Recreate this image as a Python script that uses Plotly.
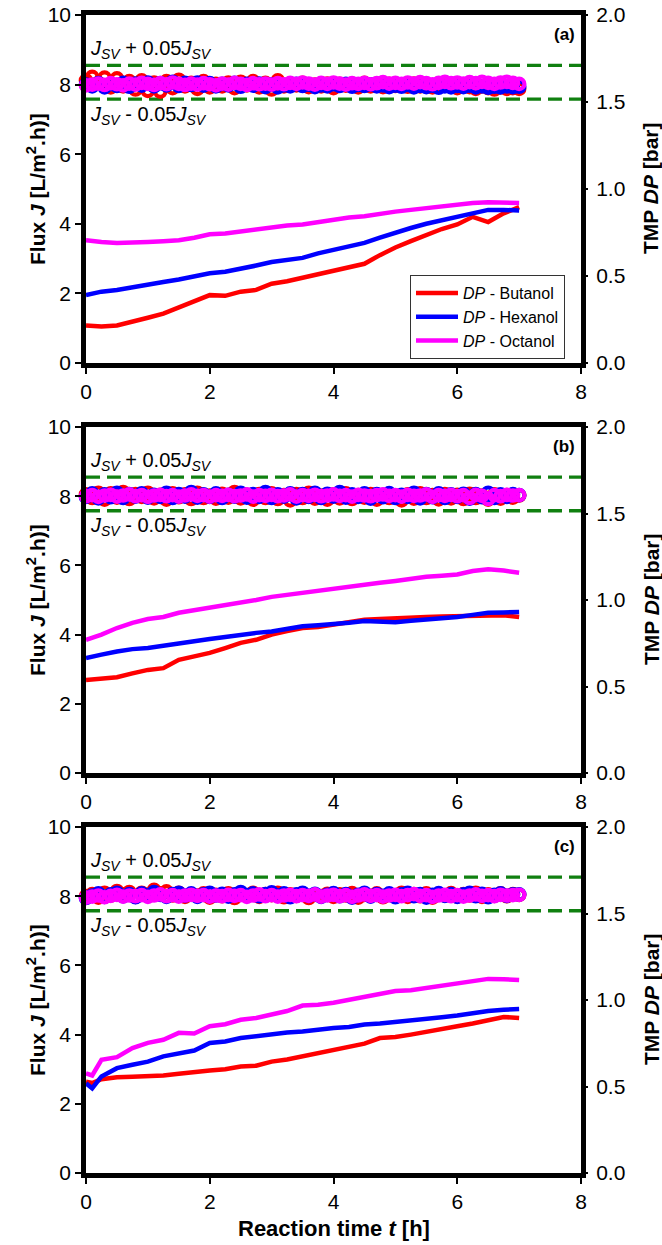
import plotly.graph_objects as go

# ---------------- data ----------------
TIME_FLUX = [0.0, 0.1, 0.2, 0.3, 0.4, 0.5, 0.6, 0.7, 0.8, 0.9,
             1.0, 1.1, 1.2, 1.3, 1.4, 1.5, 1.6, 1.7, 1.8, 1.9,
             2.0, 2.1, 2.2, 2.3, 2.4, 2.5, 2.6, 2.7, 2.8, 2.9,
             3.0, 3.1, 3.2, 3.3, 3.4, 3.5, 3.6, 3.7, 3.8, 3.9,
             4.0, 4.1, 4.2, 4.3, 4.4, 4.5, 4.6, 4.7, 4.8, 4.9,
             5.0, 5.1, 5.2, 5.3, 5.4, 5.5, 5.6, 5.7, 5.8, 5.9,
             6.0, 6.1, 6.2, 6.3, 6.4, 6.5, 6.6, 6.7, 6.8, 6.9,
             7.0]

FLUX_A_BUT = [8.12, 8.22, 8.05, 8.20, 7.92, 8.18, 7.95, 8.10, 7.86, 8.12,
              7.82, 8.06, 7.80, 8.10, 7.90, 8.14, 7.95, 8.05, 7.88, 8.10,
              7.92, 8.02, 7.95, 8.06, 7.90, 8.08, 7.98, 8.10, 7.92, 8.05,
              7.86, 8.12, 7.95, 8.02, 7.98, 8.05, 7.93, 8.00, 7.95, 8.03,
              7.90, 8.02, 7.97, 8.00, 7.92, 8.05, 7.95, 8.00, 7.93, 8.02,
              7.96, 8.00, 7.94, 8.03, 7.95, 8.00, 7.92, 8.02, 7.97, 7.95,
              7.90, 7.98, 7.93, 7.88, 7.95, 7.90, 7.86, 7.92, 7.88, 7.90,
              7.88]
FLUX_A_HEX = [8.00, 7.95, 8.04, 7.92, 8.02, 7.96, 8.05, 7.94, 8.03, 7.97,
              8.06, 7.95, 8.04, 7.98, 8.08, 7.96, 8.05, 7.99, 8.06, 7.97,
              8.04, 7.95, 8.02, 7.98, 8.05, 7.94, 8.02, 7.97, 8.03, 7.93,
              8.00, 7.92, 7.98, 7.95, 8.02, 7.96, 8.00, 7.93, 7.98, 7.95,
              8.01, 7.96, 8.02, 7.94, 7.99, 7.96, 8.01, 7.95, 7.98, 7.93,
              7.97, 7.94, 7.99, 7.92, 7.96, 7.93, 7.97, 7.91, 7.95, 7.92,
              7.96, 7.93, 7.97, 7.92, 7.95, 7.91, 7.94, 7.92, 7.95, 7.93,
              7.94]
FLUX_A_OCT = [7.98, 8.00, 8.03, 7.99, 8.04, 8.01, 7.98, 8.03, 8.00, 8.05,
              8.02, 7.99, 8.04, 8.01, 8.06, 8.02, 7.99, 8.03, 8.00, 8.04,
              8.01, 7.98, 8.03, 8.00, 8.05, 8.02, 7.99, 8.04, 8.01, 8.03,
              8.00, 8.04, 8.01, 8.05, 8.02, 8.06, 8.03, 8.00, 8.05, 8.02,
              8.06, 8.03, 8.00, 8.04, 8.02, 8.05, 8.01, 8.04, 8.07, 8.03,
              8.05, 8.02, 8.06, 8.03, 8.07, 8.04, 8.01, 8.05, 8.08, 8.04,
              8.06, 8.03, 8.07, 8.04, 8.08, 8.05, 8.02, 8.06, 8.08, 8.05,
              8.02]

FLUX_B_BUT = [8.05, 7.95, 8.10, 7.90, 8.08, 7.96, 8.12, 7.92, 8.06, 7.98,
              8.10, 7.94, 8.04, 7.90, 8.08, 7.97, 8.05, 7.92, 8.10, 7.95,
              8.02, 7.93, 8.07, 7.96, 8.12, 7.94, 8.04, 7.90, 8.06, 7.95,
              8.08, 7.92, 8.03, 7.88, 8.06, 7.95, 8.10, 7.93, 8.02, 7.90,
              8.05, 7.94, 8.08, 7.92, 8.03, 7.96, 8.06, 7.90, 8.04, 7.95,
              8.02, 7.88, 8.05, 7.93, 8.08, 7.95, 8.03, 7.91, 8.06, 7.94,
              8.04, 7.92, 8.07, 7.95, 8.02, 7.90, 8.05, 7.93, 8.03, 7.96,
              8.02]
FLUX_B_HEX = [7.98, 8.08, 7.94, 8.05, 7.97, 8.10, 7.95, 8.06, 7.99, 8.08,
              7.96, 8.04, 7.98, 8.10, 7.95, 8.06, 7.99, 8.12, 7.96, 8.05,
              7.98, 8.08, 7.95, 8.04, 7.99, 8.10, 7.96, 8.06, 7.98, 8.12,
              7.95, 8.05, 7.99, 8.08, 7.94, 8.06, 7.98, 8.10, 7.95, 8.07,
              7.99, 8.12, 7.96, 8.05, 7.98, 8.08, 7.93, 8.06, 7.97, 8.09,
              7.95, 8.04, 7.98, 8.10, 7.94, 8.06, 7.97, 8.08, 7.95, 8.05,
              7.98, 8.07, 7.93, 8.06, 7.97, 8.10, 7.95, 8.05, 7.98, 8.06,
              8.03]
FLUX_B_OCT = [8.00, 8.03, 7.98, 8.02, 8.04, 7.99, 8.02, 8.05, 8.00, 8.03,
              7.98, 8.02, 8.04, 8.00, 8.03, 7.99, 8.02, 8.05, 8.01, 8.03,
              7.99, 8.03, 8.01, 8.04, 8.00, 8.02, 8.05, 7.99, 8.03, 8.01,
              8.04, 8.00, 8.02, 8.05, 7.99, 8.03, 8.01, 8.04, 8.00, 8.02,
              8.05, 8.01, 8.03, 7.99, 8.04, 8.02, 8.00, 8.03, 8.05, 8.01,
              8.03, 7.99, 8.04, 8.01, 8.02, 8.05, 7.98, 8.03, 8.01, 8.04,
              8.00, 8.03, 7.95, 8.04, 8.01, 7.92, 8.03, 8.00, 8.04, 8.02,
              8.03]

FLUX_C_BUT = [8.00, 8.06, 7.96, 8.10, 8.02, 8.15, 8.05, 8.12, 7.98, 8.10,
              8.04, 8.18, 8.08, 8.14, 8.02, 8.10, 7.98, 8.06, 8.02, 8.08,
              7.96, 8.04, 8.00, 8.08, 7.95, 8.05, 8.02, 8.10, 7.98, 8.06,
              8.03, 8.10, 7.97, 8.05, 8.01, 8.08, 7.95, 8.04, 8.00, 8.07,
              7.98, 8.05, 8.02, 8.09, 7.96, 8.04, 8.01, 8.08, 7.97, 8.05,
              8.02, 8.10, 7.98, 8.06, 8.00, 8.08, 7.96, 8.05, 8.02, 8.09,
              7.99, 8.06, 8.02, 8.10, 7.98, 8.05, 8.01, 8.08, 8.00, 8.06,
              8.04]
FLUX_C_HEX = [7.95, 8.02, 8.08, 7.98, 8.05, 8.10, 8.00, 8.06, 7.97, 8.08,
              8.02, 8.12, 8.04, 7.98, 8.06, 8.10, 8.02, 8.08, 7.98, 8.05,
              8.10, 8.02, 8.07, 7.99, 8.05, 8.12, 8.03, 8.08, 8.00, 8.06,
              8.11, 8.02, 8.08, 7.97, 8.05, 8.10, 8.01, 8.07, 7.98, 8.04,
              8.09, 8.00, 8.06, 7.96, 8.04, 8.10, 7.99, 8.06, 8.01, 8.08,
              7.97, 8.05, 8.10, 8.00, 8.06, 7.96, 8.04, 8.09, 8.01, 8.06,
              7.98, 8.05, 8.10, 8.00, 8.07, 7.97, 8.04, 8.08, 8.01, 8.05,
              8.05]
FLUX_C_OCT = [7.96, 7.99, 8.02, 7.97, 8.01, 8.04, 7.99, 8.02, 8.00, 8.03,
              7.98, 8.02, 8.05, 8.00, 8.03, 7.99, 8.02, 8.04, 8.01, 8.03,
              7.99, 8.02, 8.00, 8.04, 8.01, 8.03, 7.98, 8.02, 8.05, 8.00,
              8.03, 7.99, 8.02, 8.04, 8.00, 8.03, 8.01, 8.05, 7.99, 8.02,
              8.04, 8.00, 8.03, 7.98, 8.02, 8.05, 8.01, 8.03, 7.99, 8.02,
              8.04, 8.00, 8.03, 8.06, 8.01, 8.03, 7.98, 8.02, 8.04, 8.00,
              8.03, 7.99, 8.02, 8.05, 8.01, 8.03, 8.00, 8.04, 8.02, 8.03,
              8.04]

TIME_DP = [0.0, 0.1, 0.25, 0.5, 0.75, 1.0, 1.25, 1.5, 1.75, 2.0,
           2.25, 2.5, 2.75, 3.0, 3.25, 3.5, 3.75, 4.0, 4.25, 4.5,
           4.75, 5.0, 5.25, 5.5, 5.75, 6.0, 6.25, 6.5, 6.75, 7.0]

DP_A_BUT = [0.216, 0.212, 0.210, 0.216, 0.236, 0.260, 0.284, 0.320, 0.360, 0.390,
            0.386, 0.410, 0.420, 0.456, 0.470, 0.490, 0.510, 0.530, 0.556, 0.570,
            0.620, 0.664, 0.700, 0.736, 0.770, 0.796, 0.840, 0.810, 0.860, 0.896]
DP_A_HEX = [0.390, 0.400, 0.410, 0.420, 0.436, 0.456, 0.466, 0.480, 0.496, 0.516,
            0.524, 0.540, 0.560, 0.580, 0.590, 0.604, 0.630, 0.650, 0.670, 0.690,
            0.720, 0.750, 0.776, 0.800, 0.820, 0.840, 0.864, 0.880, 0.880, 0.876]
DP_A_OCT = [0.706, 0.700, 0.696, 0.690, 0.690, 0.696, 0.700, 0.706, 0.720, 0.740,
            0.744, 0.756, 0.770, 0.776, 0.790, 0.796, 0.810, 0.820, 0.836, 0.844,
            0.860, 0.870, 0.880, 0.890, 0.904, 0.914, 0.920, 0.924, 0.920, 0.920]

DP_B_BUT = [0.538, 0.540, 0.548, 0.554, 0.576, 0.596, 0.606, 0.654, 0.674, 0.694,
            0.722, 0.752, 0.770, 0.800, 0.820, 0.838, 0.844, 0.858, 0.872, 0.886,
            0.890, 0.896, 0.900, 0.902, 0.904, 0.906, 0.910, 0.916, 0.912, 0.902]
DP_B_HEX = [0.664, 0.670, 0.684, 0.702, 0.716, 0.722, 0.736, 0.752, 0.764, 0.774,
            0.786, 0.800, 0.810, 0.818, 0.832, 0.848, 0.854, 0.858, 0.868, 0.878,
            0.876, 0.872, 0.880, 0.886, 0.894, 0.902, 0.914, 0.926, 0.928, 0.930]
DP_B_OCT = [0.770, 0.780, 0.800, 0.838, 0.868, 0.890, 0.902, 0.926, 0.940, 0.954,
            0.970, 0.988, 1.000, 1.018, 1.030, 1.046, 1.056, 1.064, 1.080, 1.090,
            1.100, 1.110, 1.124, 1.134, 1.140, 1.148, 1.168, 1.178, 1.170, 1.158]

DP_C_BUT = [0.528, 0.520, 0.542, 0.554, 0.556, 0.558, 0.564, 0.574, 0.580, 0.592,
            0.600, 0.616, 0.620, 0.644, 0.656, 0.674, 0.690, 0.712, 0.724, 0.748,
            0.780, 0.786, 0.800, 0.818, 0.834, 0.848, 0.864, 0.882, 0.902, 0.896]
DP_C_HEX = [0.518, 0.490, 0.558, 0.606, 0.626, 0.644, 0.674, 0.694, 0.708, 0.752,
            0.760, 0.780, 0.790, 0.806, 0.812, 0.818, 0.830, 0.838, 0.844, 0.858,
            0.864, 0.872, 0.880, 0.886, 0.900, 0.910, 0.924, 0.936, 0.944, 0.948]
DP_C_OCT = [0.576, 0.564, 0.654, 0.670, 0.722, 0.752, 0.770, 0.810, 0.806, 0.848,
            0.860, 0.886, 0.896, 0.916, 0.936, 0.968, 0.972, 0.984, 1.000, 1.018,
            1.030, 1.052, 1.056, 1.070, 1.080, 1.096, 1.110, 1.122, 1.120, 1.116]

JSV_UPPER = 8.55
JSV_LOWER = 7.58

PANEL_LABELS = ["(a)", "(b)", "(c)"]
SERIES_NAMES = ["Butanol", "Hexanol", "Octanol"]
COLORS = ["#FF0000", "#0000FF", "#FF00FF"]

X_TICKS = [0, 2, 4, 6, 8]
Y_TICKS = [0, 2, 4, 6, 8, 10]
Y2_TICKS = [0.0, 0.5, 1.0, 1.5, 2.0]

FLUX = [[FLUX_A_BUT, FLUX_A_HEX, FLUX_A_OCT],
        [FLUX_B_BUT, FLUX_B_HEX, FLUX_B_OCT],
        [FLUX_C_BUT, FLUX_C_HEX, FLUX_C_OCT]]
DP = [[DP_A_BUT, DP_A_HEX, DP_A_OCT],
      [DP_B_BUT, DP_B_HEX, DP_B_OCT],
      [DP_C_BUT, DP_C_HEX, DP_C_OCT]]

# ---------------- figure ----------------
FONT = "Liberation Sans, Arial, sans-serif"
W, H = 662, 1245
ML, MR, MT, MB = 86, 81, 15, 72
PH = H - MT - MB
PW = W - ML - MR
# panel pixel extents (top, bottom)
PANELS_PX = [(15, 363), (427, 773), (827, 1173)]


def ypaper(py):
    return (H - MB - py) / PH


def xpaper(px):
    return (px - ML) / PW


domains = [[ypaper(b), ypaper(t)] for (t, b) in PANELS_PX]

fig = go.Figure()

for p in range(3):
    xa = "x" if p == 0 else f"x{p + 1}"
    ya = "y" if p == 0 else f"y{2 * p + 1}"
    ya2 = f"y{2 * p + 2}"
    for s in range(3):
        fig.add_trace(go.Scatter(
            x=TIME_FLUX, y=FLUX[p][s], xaxis=xa, yaxis=ya,
            mode="markers", showlegend=False, cliponaxis=False,
            marker=dict(symbol="circle-open", size=10.5,
                        line=dict(color=COLORS[s], width=4.2),
                        color=COLORS[s]),
            hoverinfo="skip"))
    for s in range(3):
        fig.add_trace(go.Scatter(
            x=TIME_DP, y=DP[p][s], xaxis=xa, yaxis=ya2,
            mode="lines", showlegend=(p == 0),
            name=f"<i>DP</i> - {SERIES_NAMES[s]}",
            line=dict(color=COLORS[s], width=4.5)))

layout = dict(
    width=W, height=H,
    margin=dict(l=ML, r=MR, t=MT, b=MB, autoexpand=False),
    paper_bgcolor="white", plot_bgcolor="white",
    font=dict(family=FONT, size=21, color="black"),
    showlegend=True,
    legend=dict(x=xpaper(410), y=ypaper(275),
                xanchor="left", yanchor="top",
                bgcolor="white", bordercolor="#333333", borderwidth=1,
                font=dict(size=16, family=FONT),
                tracegroupgap=0, itemwidth=42),
)

annotations = []
shapes = []
for p in range(3):
    sfx = "" if p == 0 else str(p + 1)
    ysfx = "" if p == 0 else str(2 * p + 1)
    y2sfx = str(2 * p + 2)
    axis_common = dict(showline=True, linewidth=4.5, linecolor="black",
                       mirror=True, ticks="outside", ticklen=6, tickwidth=1.5,
                       tickcolor="black", showgrid=False, zeroline=False,
                       tickfont=dict(size=21, family=FONT))
    layout["xaxis" + sfx] = dict(axis_common, domain=[0, 1], range=[0, 8],
                                 tickvals=X_TICKS, anchor="y" + ysfx)
    layout["yaxis" + ysfx] = dict(axis_common, domain=domains[p], range=[0, 10],
                                  tickvals=Y_TICKS, anchor="x" + sfx)
    layout["yaxis" + y2sfx] = dict(domain=domains[p], range=[0, 2], tickvals=Y2_TICKS,
                                   tickformat=".1f", overlaying="y" + ysfx, side="right",
                                   anchor="x" + sfx, showline=False, showgrid=False,
                                   zeroline=False, ticks="outside", ticklen=6,
                                   tickwidth=1.5, tickcolor="black",
                                   ticklabelstandoff=4,
                                   tickfont=dict(size=21, family=FONT))
    xr = "x" + sfx
    yr = "y" + ysfx
    for yv in (JSV_UPPER, JSV_LOWER):
        shapes.append(dict(type="line", xref=xr + " domain", yref=yr,
                           x0=0, x1=1, y0=yv, y1=yv, layer="below",
                           line=dict(color="#108010", width=3.3, dash="14px,7px")))
    annotations.append(dict(xref=xr, yref=yr, x=0.03, y=9.0, xanchor="left",
                            yanchor="middle", showarrow=False,
                            text="<i>J<sub>SV</sub></i> + 0.05<i>J<sub>SV</sub></i>",
                            font=dict(size=20, family=FONT)))
    annotations.append(dict(xref=xr, yref=yr, x=0.03, y=7.12, xanchor="left",
                            yanchor="middle", showarrow=False,
                            text="<i>J<sub>SV</sub></i> - 0.05<i>J<sub>SV</sub></i>",
                            font=dict(size=20, family=FONT)))
    annotations.append(dict(xref=xr, yref=yr, x=7.93, y=9.45, xanchor="right",
                            yanchor="middle", showarrow=False,
                            text="<b>" + PANEL_LABELS[p] + "</b>",
                            font=dict(size=17, family=FONT)))
    ymid = sum(domains[p]) / 2
    annotations.append(dict(xref="paper", yref="paper", x=xpaper(36),
                            y=ymid, xanchor="center", yanchor="middle",
                            textangle=-90, showarrow=False,
                            text="<b>Flux <i>J</i> [L/m<sup>2</sup>.h)]</b>",
                            font=dict(size=21, family=FONT)))
    annotations.append(dict(xref="paper", yref="paper", x=xpaper(651),
                            y=ymid, xanchor="center", yanchor="middle",
                            textangle=-90, showarrow=False,
                            text="<b>TMP <i>DP</i> [bar]</b>",
                            font=dict(size=21, family=FONT)))

annotations.append(dict(xref="paper", yref="paper", x=0.5, y=ypaper(1228),
                        xanchor="center", yanchor="middle", showarrow=False,
                        text="<b>Reaction time <i>t</i> [h]</b>",
                        font=dict(size=22, family=FONT)))

layout["annotations"] = annotations
layout["shapes"] = shapes
fig.update_layout(layout)

fig.write_html("out.html",
               config={"displayModeBar": False},
               post_script="document.body.style.margin='0px';"
                           "document.body.style.overflow='hidden';")
